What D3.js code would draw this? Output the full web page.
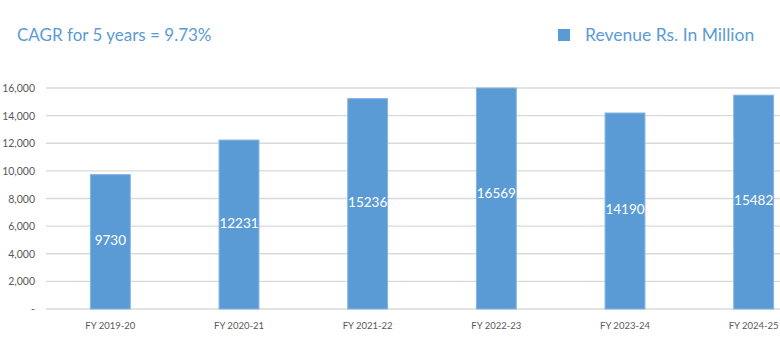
<!doctype html>
<html lang="en">
<head>
<meta charset="utf-8">
<title>Revenue</title>
<script src="https://d3js.org/d3.v7.min.js"></script>
<style>
  body { margin: 0; background: #fff; }
  svg { display: block; font-family: Lato, "Open Sans", sans-serif; }
</style>
</head>
<body>
<div id="chart"></div>
<script>
// data
var years = ['FY 2019-20', 'FY 2020-21', 'FY 2021-22', 'FY 2022-23', 'FY 2023-24', 'FY 2024-25'];
var revenue = [9730, 12231, 15236, 16569, 14190, 15482];
var yTicks = [0, 2000, 4000, 6000, 8000, 10000, 12000, 14000, 16000];
var titleText = 'CAGR for 5 years = 9.73%';
var legendText = 'Revenue Rs. In Million';

var width = 780, height = 355;
var blue = '#5b9bd5';

var svg = d3.select('#chart').append('svg')
    .attr('width', width)
    .attr('height', height);

// plot area (runs past the right edge, the picture is cropped there)
var plotLeft = 46, plotRight = 818, plotTop = 88, plotBottom = 309;

var x = d3.scaleBand().domain(years).range([plotLeft, plotRight]).paddingInner(0.69).paddingOuter(0.345);
var y = d3.scaleLinear().domain([0, 16000]).range([plotBottom, plotTop]).clamp(true);

// gridlines
svg.append('g').selectAll('line')
    .data(yTicks)
    .enter().append('line')
    .attr('x1', plotLeft)
    .attr('x2', width)
    .attr('y1', function(d) { return y(d); })
    .attr('y2', function(d) { return y(d); })
    .attr('stroke', '#d9d9d9')
    .attr('stroke-width', 1.3);

// y labels
svg.append('g').selectAll('text')
    .data(yTicks)
    .enter().append('text')
    .attr('x', 35)
    .attr('y', function(d) { return y(d) + 4; })
    .attr('text-anchor', 'end')
    .attr('fill', '#595959')
    .style('font-size', '10.5px')
    .text(function(d) { return d === 0 ? '-' : d3.format(',')(d); });

// bars
svg.append('g').selectAll('rect')
    .data(revenue)
    .enter().append('rect')
    .attr('x', function(d, i) { return x(years[i]); })
    .attr('y', function(d) { return y(d); })
    .attr('width', x.bandwidth())
    .attr('height', function(d) { return y(0) - y(d); })
    .attr('fill', blue)
    .attr('stroke', '#86b5e2')
    .attr('stroke-width', 1);

// value labels
svg.append('g').selectAll('text')
    .data(revenue)
    .enter().append('text')
    .attr('x', function(d, i) { return x(years[i]) + x.bandwidth() / 2; })
    .attr('y', function(d) { return y(d / 2) + 3; })
    .attr('text-anchor', 'middle')
    .attr('fill', '#fff')
    .style('font-size', '13.5px')
    .text(function(d) { return d; });

// x labels
svg.append('g').selectAll('text')
    .data(years)
    .enter().append('text')
    .attr('x', function(d) { return x(d) + x.bandwidth() / 2; })
    .attr('y', 329)
    .attr('text-anchor', 'middle')
    .attr('fill', '#595959')
    .style('font-size', '9.5px')
    .text(function(d) { return d; });

// title
svg.append('text')
    .attr('x', 17)
    .attr('y', 41)
    .attr('fill', blue)
    .style('font-size', '17px')
    .text(titleText);

// legend
svg.append('rect')
    .attr('x', 558)
    .attr('y', 29)
    .attr('width', 12)
    .attr('height', 12)
    .attr('fill', blue);
svg.append('text')
    .attr('x', 585)
    .attr('y', 41)
    .attr('fill', blue)
    .style('font-size', '17.5px')
    .text(legendText);
</script>
</body>
</html>
